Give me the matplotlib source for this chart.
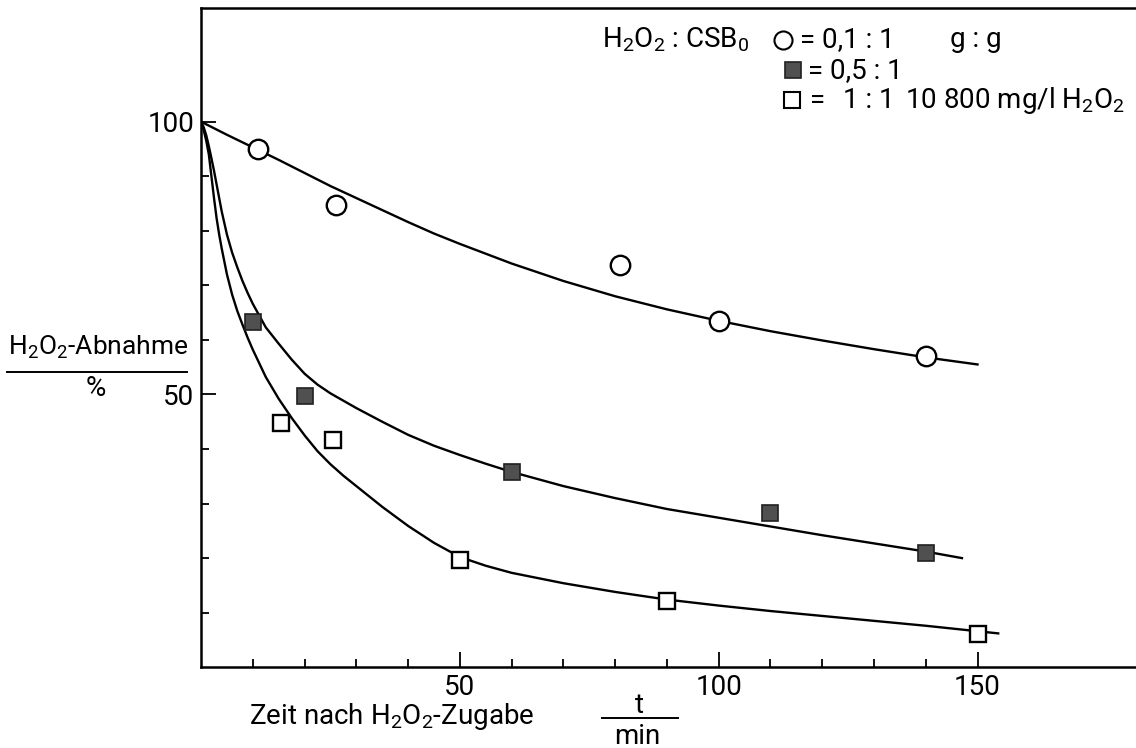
import matplotlib
matplotlib.use("Agg")
import matplotlib.pyplot as plt
from matplotlib.ticker import FixedLocator

plt.rcParams['font.family'] = ['Roboto', 'DejaVu Sans']
plt.rcParams['mathtext.fontset'] = 'custom'
plt.rcParams['mathtext.rm'] = 'Roboto'
plt.rcParams['mathtext.default'] = 'rm'

# Messpunkte (t in min, H2O2-Abnahme in %)
t_01 = [11, 26, 81, 100, 140]
h_01 = [95, 84.7, 73.8, 63.5, 57]
t_05 = [10, 20, 60, 110, 140]
h_05 = [63.3, 49.8, 35.8, 28.3, 21]
t_10 = [15.5, 25.5, 50, 90, 150]
h_10 = [44.8, 41.6, 19.6, 12.2, 6.1]

# Ausgleichskurven
kurve_t_01 = [0, 5, 10, 15, 20, 25, 30, 35, 40, 45, 50, 60, 70, 80, 90, 100, 110, 120, 130, 140, 150]
kurve_h_01 = [100, 97.6, 95.3, 93.0, 90.6, 88.2, 86.0, 83.8, 81.6, 79.5, 77.6, 74.0, 70.8, 68.0, 65.6, 63.5,
              61.6, 59.9, 58.3, 56.8, 55.5]
kurve_t_05 = [0, 0.5, 1, 1.5, 2, 2.5, 3, 3.5, 4, 5, 6, 7, 8, 9, 10, 12.5, 15, 17.5, 20, 22.5, 25, 30, 35,
              40, 45, 50, 55, 60, 70, 80, 90, 100, 110, 120, 130, 140, 147]
kurve_h_05 = [100, 99, 97.5, 95.5, 93.3, 91, 88.5, 86, 83.5, 79.3, 76, 73.3, 70.8, 68.6, 66.6, 62.3, 59.3,
              56.4, 53.8, 51.8, 50.2, 47.5, 45.0, 42.6, 40.6, 38.9, 37.3, 35.8, 33.2, 31.0, 29.0, 27.4,
              25.8, 24.2, 22.7, 21.2, 20.0]
kurve_t_10 = [0, 0.5, 1, 1.5, 2, 2.5, 3, 3.5, 4, 5, 6, 7, 8, 9, 10, 12.5, 15, 17.5, 20, 22.5, 25, 27.5, 30,
              35, 40, 45, 50, 55, 60, 70, 80, 90, 100, 110, 120, 130, 140, 150, 154]
kurve_h_10 = [100, 98.5, 96.5, 94, 90, 86, 82.3, 79.3, 76.7, 72, 68.3, 65.3, 62.8, 60.4, 58.2, 53.2, 49.2,
              45.7, 42.5, 39.6, 37.2, 35.1, 33.2, 29.4, 25.9, 22.8, 20.2, 18.6, 17.3, 15.4, 13.8, 12.4,
              11.3, 10.3, 9.4, 8.5, 7.6, 6.6, 6.2]

fig = plt.figure(figsize=(11.36, 7.48), dpi=100)
ax = fig.add_axes([0.177, 0.108, 0.822, 0.881])

for kt, kh in [(kurve_t_01, kurve_h_01), (kurve_t_05, kurve_h_05), (kurve_t_10, kurve_h_10)]:
    ax.plot(kt, kh, color='black', lw=1.7, solid_joinstyle='round')

ax.plot(t_01, h_01, 'o', ms=14, mfc='white', mec='black', mew=1.7)
ax.plot(t_05, h_05, 's', ms=12, mfc='#505050', mec='#202020', mew=1.2)
ax.plot(t_10, h_10, 's', ms=12, mfc='white', mec='black', mew=1.7)

ax.set_xlim(0, 180.4)
ax.set_ylim(0, 120.8)

ax.xaxis.set_major_locator(FixedLocator([50, 100, 150]))
ax.xaxis.set_minor_locator(FixedLocator([10, 20, 30, 40, 60, 70, 80, 90, 110, 120, 130, 140]))
ax.yaxis.set_major_locator(FixedLocator([50, 100]))
ax.yaxis.set_minor_locator(FixedLocator([10, 20, 30, 40, 60, 70, 80, 90]))
ax.tick_params(which='both', direction='in', width=1.3, labelsize=20, top=False, right=False)
ax.tick_params(which='major', length=11, pad=5)
ax.tick_params(which='minor', length=6)

for s in ['left', 'bottom', 'top']:
    ax.spines[s].set_linewidth(1.8)
ax.spines['right'].set_visible(False)

# Achsenbeschriftungen
fig.text(0.007, 0.535, '$H_2O_2$-Abnahme', fontsize=19, ha='left', va='center')
fig.add_artist(plt.Line2D([0.006, 0.165], [0.503, 0.503], color='black', lw=1.4))
fig.text(0.084, 0.480, '%', fontsize=20, ha='center', va='center')

fig.text(0.219, 0.042, 'Zeit nach $H_2O_2$-Zugabe', fontsize=20, ha='left', va='center')
fig.text(0.563, 0.057, 't', fontsize=20, ha='center', va='center')
fig.add_artist(plt.Line2D([0.530, 0.597], [0.040, 0.040], color='black', lw=1.4))
fig.text(0.561, 0.016, 'min', fontsize=20, ha='center', va='center')

# Legende als Text mit Symbolen
y1, y2, y3 = 0.947, 0.906, 0.866
fig.text(0.530, y1, '$H_2O_2$ : $CSB_0$', fontsize=20, va='center')
fig.add_artist(plt.Line2D([0.689], [y1], marker='o', ms=13, mfc='white', mec='black', mew=1.5))
fig.text(0.704, y1, '= 0,1 : 1', fontsize=20, va='center')
fig.text(0.836, y1, 'g : g', fontsize=20, va='center')
fig.add_artist(plt.Line2D([0.698], [y2], marker='s', ms=11, mfc='#505050', mec='#202020', mew=1.2))
fig.text(0.711, y2, '= 0,5 : 1', fontsize=20, va='center')
fig.add_artist(plt.Line2D([0.697], [y3], marker='s', ms=11, mfc='white', mec='black', mew=1.5))
fig.text(0.713, y3, '=', fontsize=20, va='center')
fig.text(0.742, y3, '1 : 1', fontsize=20, va='center')
fig.text(0.797, y3, '10 800 mg/l $H_2O_2$', fontsize=20, va='center')

fig.savefig('out.png', dpi=100)
